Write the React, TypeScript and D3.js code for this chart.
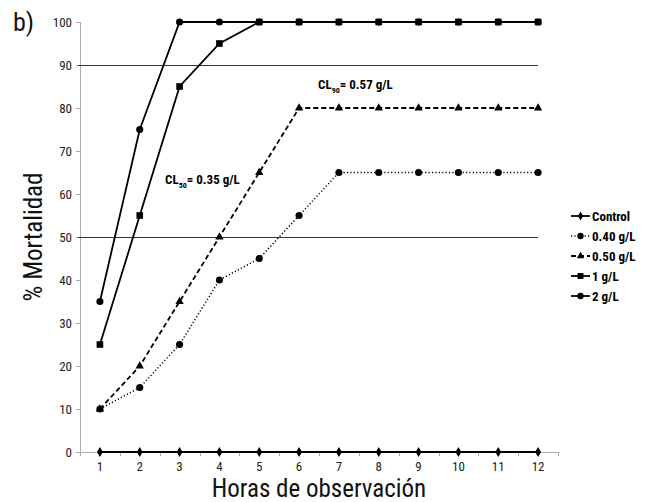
import React from "react";
import * as d3 from "d3";

const hours = [1, 2, 3, 4, 5, 6, 7, 8, 9, 10, 11, 12];
const control = [0, 0, 0, 0, 0, 0, 0, 0, 0, 0, 0, 0];
const g040 = [10, 15, 25, 40, 45, 55, 65, 65, 65, 65, 65, 65];
const g050 = [10, 20, 35, 50, 65, 80, 80, 80, 80, 80, 80, 80];
const g1 = [25, 55, 85, 95, 100, 100, 100, 100, 100, 100, 100, 100];
const g2 = [35, 75, 100, 100, 100, 100, 100, 100, 100, 100, 100, 100];
const yTicks = [0, 10, 20, 30, 40, 50, 60, 70, 80, 90, 100];
const refLines = [90, 50];

type Series = { name: string; values: number[]; dash: string; marker: string };
const series: Series[] = [
  { name: "Control", values: control, dash: "", marker: "diamond" },
  { name: "0.40 g/L", values: g040, dash: "1.2,2.2", marker: "circle" },
  { name: "0.50 g/L", values: g050, dash: "5,3", marker: "triangle" },
  { name: "1 g/L", values: g1, dash: "", marker: "square" },
  { name: "2 g/L", values: g2, dash: "", marker: "circle" },
];

const FONT = "'Liberation Sans Narrow', 'Arial Narrow', 'Roboto Condensed', sans-serif";

const x0 = 80, x1 = 558, yTop = 22, yBot = 452;

function Marker({ type, x, y, scale = 1 }: { type: string; x: number; y: number; scale?: number }) {
  const symType =
    type === "diamond" ? d3.symbolDiamond :
    type === "triangle" ? d3.symbolTriangle :
    type === "square" ? d3.symbolSquare : d3.symbolCircle;
  const size = (type === "diamond" ? 30 : type === "square" ? 44 : type === "triangle" ? 30 : 40) * scale;
  const p = d3.symbol().type(symType).size(size)();
  return <path d={p || ""} transform={`translate(${x},${y})`} fill="#000" />;
}

export default function App() {
  const xBand = d3.scalePoint<number>().domain(hours).range([x0, x1]).padding(0.5);
  const y = d3.scaleLinear().domain([0, 100]).range([yBot, yTop]);
  const step = xBand.step();
  const line = d3
    .line<number>()
    .x((_, i) => xBand(hours[i]) as number)
    .y((d) => y(d));
  const c = (v: number) => Math.round(v) + 0.5;

  return (
    <svg width={645} height={502} style={{ position: "absolute", left: 0, top: 0 }}>
      <rect width={645} height={502} fill="#fff" />
      <text x={13} y={31} fontFamily={FONT} fontSize={26} fill="#111">b)</text>

      {/* y axis */}
      <line x1={c(x0)} x2={c(x0)} y1={yTop} y2={yBot} stroke="#aaa" strokeWidth={1} />
      {yTicks.map((t) => (
        <g key={t}>
          <line x1={x0 - 4} x2={x0} y1={c(y(t))} y2={c(y(t))} stroke="#aaa" />
          <text x={72} y={y(t) + 4.5} textAnchor="end" fontFamily={FONT} fontSize={13} fill="#222">{t}</text>
        </g>
      ))}
      {/* x axis */}
      <line x1={x0} x2={x1} y1={c(yBot)} y2={c(yBot)} stroke="#aaa" />
      {d3.range(hours.length + 1).map((k) => (
        <line key={k} x1={c(x0 + k * step)} x2={c(x0 + k * step)} y1={yBot} y2={yBot + 4} stroke="#aaa" />
      ))}
      {hours.map((h) => (
        <text key={h} x={xBand(h)} y={yBot + 19} textAnchor="middle" fontFamily={FONT} fontSize={13} fill="#222">{h}</text>
      ))}

      {/* reference lines */}
      {refLines.map((r) => (
        <line key={r} x1={x0 - 2} x2={xBand(12)} y1={c(y(r))} y2={c(y(r))} stroke="#333" strokeWidth={1} />
      ))}

      {/* series */}
      {series.map((s) => (
        <g key={s.name}>
          <path d={line(s.values) || ""} fill="none" stroke="#000" strokeWidth={s.marker === "circle" && s.dash ? 1.5 : 1.8} strokeDasharray={s.dash} />
          {s.values.map((v, i) => (
            <Marker key={i} type={s.marker} x={xBand(hours[i]) as number} y={y(v)} />
          ))}
        </g>
      ))}

      {/* annotations */}
      <text x={318} y={89} fontFamily={FONT} fontSize={13} fontWeight="bold" fill="#000">
        CL<tspan fontSize={8} dy={4}>90</tspan><tspan dy={-4}>= 0.57 g/L</tspan>
      </text>
      <text x={165} y={184} fontFamily={FONT} fontSize={13} fontWeight="bold" fill="#000">
        CL<tspan fontSize={8} dy={4}>50</tspan><tspan dy={-4}>= 0.35 g/L</tspan>
      </text>

      {/* legend */}
      {series.map((s, i) => {
        const ly = 216 + i * 20;
        return (
          <g key={s.name}>
            <line x1={571} x2={590} y1={ly} y2={ly} stroke="#000" strokeWidth={s.marker === "circle" && s.dash ? 1.5 : 1.8} strokeDasharray={s.dash} />
            <Marker type={s.marker} x={580.5} y={ly} scale={0.8} />
            <text x={592} y={ly + 4.5} fontFamily={FONT} fontSize={13} fontWeight="bold" fill="#000">{s.name}</text>
          </g>
        );
      })}

      {/* titles */}
      <text x={(x0 + x1) / 2} y={497} textAnchor="middle" fontFamily={FONT} fontSize={25} fill="#111">Horas de observación</text>
      <text transform={`translate(42,${y(50)}) rotate(-90)`} textAnchor="middle" fontFamily={FONT} fontSize={25} fill="#111">% Mortalidad</text>
    </svg>
  );
}
